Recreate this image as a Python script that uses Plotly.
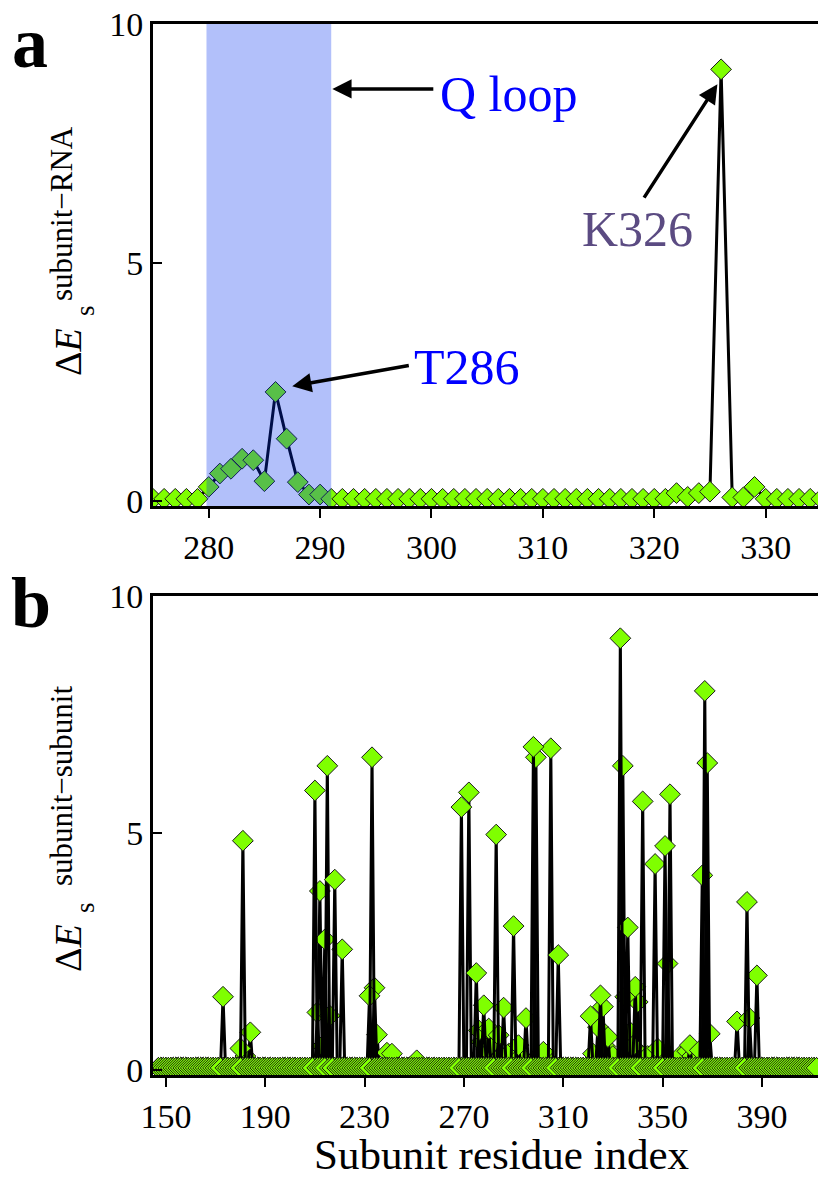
import plotly.graph_objects as go

# panel a: subunit-RNA, residues 274..335
res_a = list(range(274, 336))
dE_rna = [0.05, 0.05, 0.05, 0.05, 0.05, 0.05,          # 274-279
          0.30, 0.58, 0.68, 0.89, 0.86, 0.42, 2.29,    # 280-286
          1.31, 0.40, 0.14, 0.14,                      # 287-290
          0.05, 0.05, 0.05, 0.05, 0.05, 0.05, 0.05, 0.05, 0.05, 0.05,  # 291-300
          0.05, 0.05, 0.05, 0.05, 0.05, 0.05, 0.05, 0.05, 0.05, 0.05,  # 301-310
          0.05, 0.05, 0.05, 0.05, 0.05, 0.05, 0.05, 0.05, 0.05, 0.05,  # 311-320
          0.05, 0.17, 0.09, 0.17, 0.20, 9.05, 0.08, 0.08, 0.30,        # 321-329
          0.05, 0.05, 0.05, 0.05, 0.05, 0.05]                          # 330-335

# panel b: subunit-subunit, several subunits overlaid (non-zero residues only)
res_b = list(range(147, 413))
baseline = 0.05
sub1 = {173: 1.55, 181: 4.84, 210: 5.9, 215: 6.42, 218: 4.02, 233: 6.6, 269: 5.55,
        283: 4.97, 290: 3.04, 298: 6.82, 308: 2.43, 333: 9.11, 342: 5.67, 351: 4.73,
        367: 8.0, 384: 3.55}
sub2 = {180: 0.46, 184: 0.8, 212: 3.78, 214: 2.76, 221: 2.55, 232: 1.57, 272: 5.86,
        275: 2.05, 286: 1.32, 299: 6.6, 305: 6.79, 325: 1.58, 334: 6.42, 336: 3.01,
        347: 4.35, 353: 5.82, 368: 6.48, 388: 2.0}
sub3 = {211: 1.22, 216: 1.15, 234: 1.74, 278: 1.37, 295: 1.1, 321: 1.14, 326: 1.34,
        335: 1.55, 339: 1.76, 352: 2.25, 366: 4.11, 380: 1.03, 385: 1.1}
sub4 = {213: 0.51, 235: 0.75, 239: 0.37, 241: 0.35, 251: 0.21, 276: 0.84, 280: 0.88,
        284: 0.74, 292: 0.53, 302: 0.39, 324: 0.91, 328: 0.7, 338: 0.51, 340: 1.44,
        348: 0.46, 361: 0.53, 365: 0.42, 369: 0.77}
sub5 = {182: 0.3, 277: 0.6, 279: 0.45, 281: 0.55, 285: 0.3, 288: 0.35, 293: 0.3,
        300: 0.3, 303: 0.25, 322: 0.35, 327: 0.5, 330: 0.3, 337: 0.8, 341: 0.35,
        344: 0.3, 349: 0.25, 357: 0.3, 360: 0.4, 362: 0.3}

ticks_a = [280, 290, 300, 310, 320, 330]
ticks_b = [150, 190, 230, 270, 310, 350, 390]

SERIF = "Liberation Serif"
GREEN = "#7fff00"
MARKER = dict(symbol="diamond", size=16, color=GREEN, line=dict(color="#1a1a1a", width=1))

# page pixel -> paper coords (plot area 153..818 x 24..1075)
def px(x):
    return (x - 153) / 665

def py(y):
    return (1075 - y) / 1051

fig = go.Figure()

fig.add_trace(go.Scatter(
    x=res_a, y=dE_rna, mode="lines+markers",
    line=dict(color="black", width=3), marker=MARKER,
    xaxis="x", yaxis="y", showlegend=False))

for sub in [sub5, sub4, sub3, sub2, sub1]:
    vals = [sub.get(r, baseline) for r in res_b]
    fig.add_trace(go.Scatter(
        x=res_b, y=vals, mode="lines+markers",
        line=dict(color="black", width=3), marker=MARKER,
        xaxis="x2", yaxis="y2", showlegend=False))

axis_common = dict(showline=True, linecolor="black", linewidth=3, showgrid=False,
                   zeroline=False, tickcolor="black", tickwidth=2, ticklen=9,
                   tickfont=dict(family=SERIF, size=34, color="black"))

fig.update_layout(
    width=818, height=1179,
    margin=dict(l=153, r=0, t=24, b=104),
    paper_bgcolor="white", plot_bgcolor="white",
    xaxis=dict(axis_common, domain=[0, 1], anchor="y", range=[275, 334.7],
               tickvals=ticks_a, ticks="outside", mirror=True),
    yaxis=dict(axis_common, domain=[0.5414, 1], anchor="x", range=[-0.1, 10],
               tickvals=[0, 5, 10], ticks="inside"),
    xaxis2=dict(axis_common, domain=[0, 1], anchor="y2", range=[144.8, 412.6],
                tickvals=ticks_b, ticks="outside", mirror=True),
    yaxis2=dict(axis_common, domain=[0, 0.4557], anchor="x2", range=[-0.1, 10],
                tickvals=[0, 5, 10], ticks="inside"),
)

# Q loop shading
fig.add_shape(type="rect", xref="x", yref="y domain", x0=279.8, x1=291.0, y0=0, y1=1,
              fillcolor="rgba(0,45,238,0.3)", line=dict(width=0), layer="above")

arrows = [((291.1, 8.64), (300.3, 8.64)),
          ((287.5, 2.41), (298.1, 2.85)),
          ((325.67, 8.74), (319.0, 6.33))]
for (hx, hy), (tx, ty) in arrows:
    fig.add_annotation(x=hx, y=hy, ax=tx, ay=ty, xref="x", yref="y", axref="x", ayref="y",
                       text="", showarrow=True, arrowhead=2, arrowsize=1.1,
                       arrowwidth=3.5, arrowcolor="black")

fig.add_annotation(x=306.95, y=8.53, xref="x", yref="y", text="Q loop", showarrow=False,
                   font=dict(family=SERIF, size=50, color="#0000ff"))
fig.add_annotation(x=303.2, y=2.81, xref="x", yref="y", text="T286", showarrow=False,
                   font=dict(family=SERIF, size=50, color="#0000ff"))
fig.add_annotation(x=318.5, y=5.7, xref="x", yref="y", text="K326", showarrow=False,
                   font=dict(family=SERIF, size=50, color="#5b4b82"))

# y-axis titles: ΔE, subscript s and superscript placed separately
def ytitle(y_delta, y_sub, y_sup, sup_text):
    common = dict(xref="paper", yref="paper", textangle=-90, showarrow=False,
                  xanchor="center", yanchor="middle")
    fig.add_annotation(x=px(68), y=py(y_delta), text="Δ<i>E</i>",
                       font=dict(family=SERIF, size=38, color="black"), **common)
    fig.add_annotation(x=px(85), y=py(y_sub), text="s",
                       font=dict(family=SERIF, size=27, color="black"), **common)
    fig.add_annotation(x=px(61), y=py(y_sup), text=sup_text,
                       font=dict(family=SERIF, size=31, color="black"), **common)

ytitle(352, 311, 214, "subunit−RNA")
ytitle(948, 908, 786, "subunit−subunit")

fig.add_annotation(x=px(501), y=py(1154), xref="paper", yref="paper",
                   text="Subunit residue index", showarrow=False,
                   xanchor="center", yanchor="middle",
                   font=dict(family=SERIF, size=43, color="black"))

# panel letters
fig.add_annotation(x=px(30), y=py(43), xref="paper", yref="paper",
                   text="<b>a</b>", showarrow=False, xanchor="center", yanchor="middle",
                   font=dict(family=SERIF, size=72, color="black"))
fig.add_annotation(x=px(31), y=py(603), xref="paper", yref="paper",
                   text="<b>b</b>", showarrow=False, xanchor="center", yanchor="middle",
                   font=dict(family=SERIF, size=72, color="black"))

fig.write_html("out.html", config={"displayModeBar": False},
               post_script="document.body.style.margin='0';")
